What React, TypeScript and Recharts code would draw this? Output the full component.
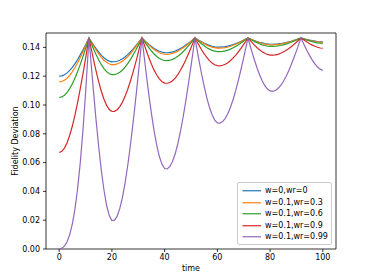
import React from 'react';
import { LineChart, Line, XAxis, YAxis, Legend, ReferenceArea } from 'recharts';

const time = [
  0, 1, 2, 3, 4, 5, 6, 7, 8, 9, 10, 11, 11.3,
  12, 13, 14, 15, 16, 17, 18, 19, 20,
  21, 22, 23, 24, 25, 26, 27, 28, 29, 30, 31, 31.4,
  32, 33, 34, 35, 36, 37, 38, 39, 40,
  41, 42, 43, 44, 45, 46, 47, 48, 49, 50, 51, 51.5,
  52, 53, 54, 55, 56, 57, 58, 59, 60,
  61, 62, 63, 64, 65, 66, 67, 68, 69, 70, 71, 71.6,
  72, 73, 74, 75, 76, 77, 78, 79, 80,
  81, 82, 83, 84, 85, 86, 87, 88, 89, 90, 91, 91.7,
  92, 93, 94, 95, 96, 97, 98, 99, 100,
];

const seriesNames = ['w=0,wr=0', 'w=0.1,wr=0.3', 'w=0.1,wr=0.6', 'w=0.1,wr=0.9', 'w=0.1,wr=0.99'];
const seriesColors = ['#1f77b4', '#ff7f0e', '#2ca02c', '#d62728', '#9467bd'];

const blue = [
  0.1200, 0.1202, 0.1210, 0.1223, 0.1240, 0.1262, 0.1287, 0.1316, 0.1348, 0.1382, 0.1417, 0.1454, 0.1465,
  0.1445, 0.1417, 0.1391, 0.1367, 0.1345, 0.1328, 0.1314, 0.1305, 0.1300,
  0.1301, 0.1304, 0.1311, 0.1321, 0.1334, 0.1350, 0.1368, 0.1388, 0.1410, 0.1432, 0.1456, 0.1465,
  0.1455, 0.1437, 0.1421, 0.1406, 0.1393, 0.1382, 0.1373, 0.1367, 0.1364,
  0.1363, 0.1365, 0.1369, 0.1375, 0.1383, 0.1392, 0.1403, 0.1416, 0.1429, 0.1443, 0.1458, 0.1465,
  0.1460, 0.1449, 0.1439, 0.1429, 0.1421, 0.1414, 0.1408, 0.1404, 0.1402,
  0.1402, 0.1403, 0.1406, 0.1409, 0.1414, 0.1420, 0.1427, 0.1434, 0.1442, 0.1451, 0.1460, 0.1465,
  0.1462, 0.1455, 0.1448, 0.1441, 0.1435, 0.1431, 0.1427, 0.1424, 0.1422,
  0.1422, 0.1423, 0.1424, 0.1427, 0.1430, 0.1434, 0.1438, 0.1443, 0.1449, 0.1455, 0.1461, 0.1465,
  0.1464, 0.1459, 0.1455, 0.1450, 0.1447, 0.1444, 0.1441, 0.1439, 0.1438,
];

const orange = [
  0.1160, 0.1163, 0.1172, 0.1186, 0.1206, 0.1231, 0.1260, 0.1293, 0.1330, 0.1369, 0.1410, 0.1452, 0.1465,
  0.1443, 0.1411, 0.1382, 0.1355, 0.1331, 0.1311, 0.1296, 0.1285, 0.1280,
  0.1281, 0.1285, 0.1293, 0.1304, 0.1319, 0.1336, 0.1356, 0.1379, 0.1403, 0.1428, 0.1454, 0.1465,
  0.1453, 0.1434, 0.1416, 0.1400, 0.1385, 0.1373, 0.1363, 0.1356, 0.1353,
  0.1352, 0.1354, 0.1359, 0.1365, 0.1374, 0.1385, 0.1397, 0.1410, 0.1425, 0.1441, 0.1457, 0.1465,
  0.1459, 0.1447, 0.1436, 0.1425, 0.1416, 0.1408, 0.1402, 0.1398, 0.1395,
  0.1395, 0.1396, 0.1399, 0.1403, 0.1408, 0.1415, 0.1422, 0.1431, 0.1440, 0.1449, 0.1459, 0.1465,
  0.1462, 0.1454, 0.1446, 0.1439, 0.1433, 0.1427, 0.1423, 0.1420, 0.1418,
  0.1418, 0.1419, 0.1421, 0.1423, 0.1427, 0.1431, 0.1436, 0.1441, 0.1447, 0.1454, 0.1460, 0.1465,
  0.1463, 0.1458, 0.1453, 0.1448, 0.1444, 0.1440, 0.1438, 0.1436, 0.1434,
];

const green = [
  0.1052, 0.1056, 0.1068, 0.1087, 0.1114, 0.1148, 0.1188, 0.1233, 0.1282, 0.1335, 0.1391, 0.1448, 0.1465,
  0.1434, 0.1391, 0.1350, 0.1313, 0.1280, 0.1253, 0.1232, 0.1217, 0.1211,
  0.1211, 0.1217, 0.1227, 0.1243, 0.1263, 0.1287, 0.1315, 0.1346, 0.1379, 0.1414, 0.1450, 0.1465,
  0.1449, 0.1423, 0.1398, 0.1375, 0.1354, 0.1337, 0.1323, 0.1314, 0.1309,
  0.1308, 0.1311, 0.1317, 0.1327, 0.1339, 0.1353, 0.1370, 0.1389, 0.1410, 0.1431, 0.1454, 0.1465,
  0.1457, 0.1441, 0.1425, 0.1411, 0.1398, 0.1388, 0.1379, 0.1374, 0.1371,
  0.1370, 0.1372, 0.1376, 0.1381, 0.1388, 0.1397, 0.1407, 0.1418, 0.1431, 0.1444, 0.1457, 0.1465,
  0.1461, 0.1451, 0.1442, 0.1433, 0.1425, 0.1418, 0.1413, 0.1409, 0.1407,
  0.1407, 0.1408, 0.1410, 0.1413, 0.1418, 0.1423, 0.1429, 0.1436, 0.1443, 0.1451, 0.1459, 0.1465,
  0.1463, 0.1457, 0.1450, 0.1445, 0.1439, 0.1435, 0.1431, 0.1429, 0.1427,
];

const red = [
  0.0670, 0.0678, 0.0701, 0.0738, 0.0790, 0.0854, 0.0931, 0.1018, 0.1113, 0.1215, 0.1322, 0.1432, 0.1465,
  0.1403, 0.1317, 0.1235, 0.1160, 0.1094, 0.1040, 0.0997, 0.0969, 0.0955,
  0.0956, 0.0967, 0.0989, 0.1020, 0.1060, 0.1109, 0.1165, 0.1227, 0.1293, 0.1364, 0.1436, 0.1465,
  0.1433, 0.1380, 0.1330, 0.1283, 0.1242, 0.1208, 0.1181, 0.1162, 0.1152,
  0.1151, 0.1156, 0.1169, 0.1187, 0.1211, 0.1241, 0.1275, 0.1313, 0.1354, 0.1397, 0.1442, 0.1465,
  0.1448, 0.1416, 0.1384, 0.1355, 0.1330, 0.1308, 0.1291, 0.1279, 0.1273,
  0.1272, 0.1276, 0.1283, 0.1294, 0.1309, 0.1327, 0.1347, 0.1370, 0.1395, 0.1421, 0.1448, 0.1465,
  0.1457, 0.1437, 0.1417, 0.1399, 0.1383, 0.1369, 0.1359, 0.1351, 0.1347,
  0.1346, 0.1348, 0.1352, 0.1359, 0.1368, 0.1379, 0.1391, 0.1405, 0.1420, 0.1436, 0.1453, 0.1465,
  0.1461, 0.1449, 0.1437, 0.1426, 0.1416, 0.1408, 0.1401, 0.1396, 0.1394,
];

const purple = [
  0.0000, 0.0005, 0.0020, 0.0050, 0.0100, 0.0175, 0.0280, 0.0420, 0.0600, 0.0820, 0.1080, 0.1375, 0.1465,
  0.1312, 0.1098, 0.0894, 0.0708, 0.0544, 0.0408, 0.0302, 0.0232, 0.0198,
  0.0200, 0.0228, 0.0282, 0.0359, 0.0459, 0.0580, 0.0719, 0.0872, 0.1038, 0.1213, 0.1393, 0.1465,
  0.1372, 0.1219, 0.1074, 0.0940, 0.0821, 0.0721, 0.0642, 0.0588, 0.0559,
  0.0556, 0.0573, 0.0608, 0.0661, 0.0731, 0.0816, 0.0915, 0.1025, 0.1144, 0.1270, 0.1399, 0.1465,
  0.1414, 0.1313, 0.1217, 0.1129, 0.1050, 0.0984, 0.0932, 0.0895, 0.0876,
  0.0874, 0.0885, 0.0907, 0.0941, 0.0986, 0.1040, 0.1103, 0.1174, 0.1250, 0.1331, 0.1414, 0.1465,
  0.1439, 0.1376, 0.1316, 0.1260, 0.1210, 0.1168, 0.1134, 0.1111, 0.1098,
  0.1095, 0.1101, 0.1115, 0.1135, 0.1163, 0.1196, 0.1235, 0.1279, 0.1326, 0.1376, 0.1428, 0.1465,
  0.1453, 0.1415, 0.1377, 0.1343, 0.1312, 0.1285, 0.1264, 0.1249, 0.1240,
];

const xTicks = [0, 20, 40, 60, 80, 100];
const yTicks = [0, 0.02, 0.04, 0.06, 0.08, 0.1, 0.12, 0.14];
const xDomain = [-5, 105];
const yDomain = [0, 0.15];

const seriesValues = [blue, orange, green, red, purple];
const seriesKeys = ['s0', 's1', 's2', 's3', 's4'];

const data = time.map((t, i) => {
  const row: Record<string, number> = { time: t };
  seriesKeys.forEach((k, j) => {
    row[k] = seriesValues[j][i];
  });
  return row;
});

const FONT = 'DejaVu Sans';

const renderLegend = (props: any) => {
  const payload = props.payload || [];
  return (
    <div
      style={{
        boxSizing: 'border-box',
        width: 95,
        height: 63,
        border: '1px solid #cccccc',
        borderRadius: 2,
        background: 'rgba(255,255,255,0.8)',
        paddingTop: 2,
        fontFamily: FONT,
        fontSize: 8,
        color: '#000',
      }}
    >
      {payload.map((e: any, i: number) => (
        <div key={i} style={{ display: 'flex', alignItems: 'center', height: 11.5, lineHeight: '11.5px' }}>
          <svg width={27} height={11.5} style={{ display: 'block', flex: 'none' }}>
            <line x1={4.5} x2={23} y1={5.75} y2={5.75} stroke={e.color} strokeWidth={1.2} />
          </svg>
          <span style={{ whiteSpace: 'nowrap' }}>{e.value}</span>
        </div>
      ))}
    </div>
  );
};

const YLabel = (props: any) => {
  const vb = props.viewBox || {};
  const cx = (vb.x || 0) + 7.3;
  const cy = (vb.y || 0) + (vb.height || 0) / 2;
  return (
    <text
      x={cx}
      y={cy}
      transform={`rotate(-90, ${cx}, ${cy})`}
      textAnchor="middle"
      dominantBaseline="central"
      fontFamily={FONT}
      fontSize={8}
      fill="#000"
    >
      Fidelity Deviation
    </text>
  );
};

const XLabel = (props: any) => {
  const vb = props.viewBox || {};
  const cx = (vb.x || 0) + (vb.width || 0) / 2;
  const cy = (vb.y || 0) + 19.5;
  return (
    <text x={cx} y={cy} textAnchor="middle" dominantBaseline="central" fontFamily={FONT} fontSize={8} fill="#000">
      time
    </text>
  );
};

export default function App() {
  return (
    <div style={{ width: 366, height: 272, position: 'relative' }}>
      <LineChart
        width={366}
        height={272}
        data={data}
        margin={{ top: 25, right: 38, bottom: 0, left: 0 }}
      >
        <XAxis
          dataKey="time"
          type="number"
          domain={xDomain}
          ticks={xTicks}
          allowDataOverflow
          axisLine={false}
          tickLine={{ stroke: '#000', strokeWidth: 0.8 }}
          tickSize={3}
          tickMargin={2}
          height={31}
          tick={{ fontSize: 8, fill: '#000', fontFamily: FONT }}
          label={<XLabel />}
        />
        <YAxis
          type="number"
          domain={yDomain}
          ticks={yTicks}
          allowDataOverflow
          axisLine={false}
          tickLine={{ stroke: '#000', strokeWidth: 0.8 }}
          tickSize={3}
          tickMargin={3}
          width={38}
          tickFormatter={(v: number) => v.toFixed(2)}
          tick={{ fontSize: 8, fill: '#000', fontFamily: FONT }}
          label={<YLabel />}
        />
        <ReferenceArea
          x1={xDomain[0]}
          x2={xDomain[1]}
          y1={yDomain[0]}
          y2={yDomain[1]}
          fill="none"
          fillOpacity={0}
          stroke="#000"
          strokeWidth={0.8}
          ifOverflow="visible"
        />
        {seriesKeys.map((k, j) => (
          <Line
            key={k}
            dataKey={k}
            name={seriesNames[j]}
            stroke={seriesColors[j]}
            strokeWidth={1.2}
            type="linear"
            dot={false}
            activeDot={false}
            isAnimationActive={false}
          />
        ))}
        <Legend
          layout="vertical"
          align="center"
          verticalAlign="middle"
          wrapperStyle={{ position: 'absolute', left: 229, top: 174, width: 95, height: 63 }}
          content={renderLegend}
        />
      </LineChart>
    </div>
  );
}
